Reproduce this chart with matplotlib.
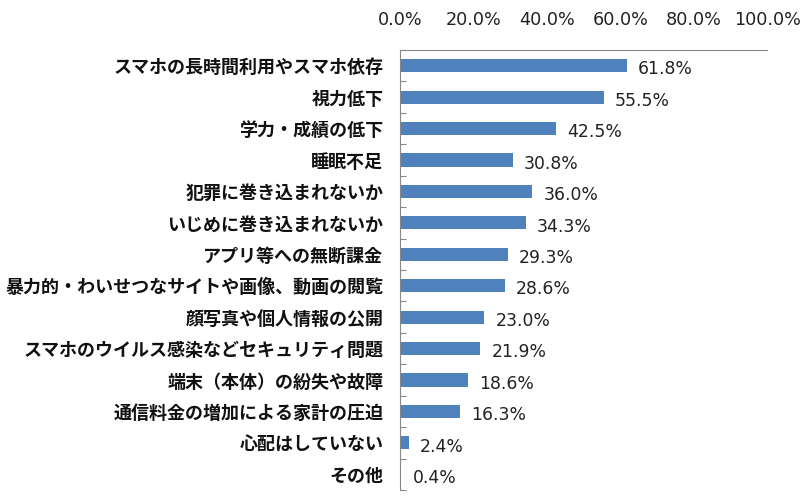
import matplotlib.pyplot as plt
from matplotlib.ticker import FuncFormatter

plt.rcParams['font.family'] = ['Noto Sans CJK JP', 'DejaVu Sans']

# categories and values (%)
labels = [
    'スマホの長時間利用やスマホ依存',
    '視力低下',
    '学力・成績の低下',
    '睡眠不足',
    '犯罪に巻き込まれないか',
    'いじめに巻き込まれないか',
    'アプリ等への無断課金',
    '暴力的・わいせつなサイトや画像、動画の閲覧',
    '顔写真や個人情報の公開',
    'スマホのウイルス感染などセキュリティ問題',
    '端末（本体）の紛失や故障',
    '通信料金の増加による家計の圧迫',
    '心配はしていない',
    'その他',
]
values = [61.8, 55.5, 42.5, 30.8, 36.0, 34.3, 29.3, 28.6, 23.0, 21.9, 18.6, 16.3, 2.4, 0.4]
xticks = [0, 20, 40, 60, 80, 100]

fig = plt.figure(figsize=(8, 5), dpi=100)
ax = fig.add_axes([0.5, 0.02, 0.459, 0.88])

pos = list(range(len(labels)))
ax.barh(pos, values, height=0.42, color='#4F81BD')
for p, v in zip(pos, values):
    ax.text(v + 3.0, p + 0.12, f'{v:.1f}%', va='center', ha='left', fontsize=12.4,
            color='#222222', family=['DejaVu Sans'])

ax.set_ylim(len(labels) - 0.5, -0.5)
ax.set_xlim(0, 100)
ax.set_yticks([p + 0.5 for p in pos[:-1]] + [-0.5, len(labels) - 0.5])
ax.set_yticklabels([])
ax.set_yticks(pos, minor=True)
ax.set_yticklabels(labels, minor=True, fontsize=13, fontweight='bold', color='#111111')
ax.tick_params(axis='y', which='minor', length=0, pad=12)
ax.tick_params(axis='y', which='major', direction='in', length=4, color='#888888')

ax.xaxis.tick_top()
ax.set_xticks(xticks)
ax.xaxis.set_major_formatter(FuncFormatter(lambda x, _: f'{x:.1f}%'))
ax.tick_params(axis='x', length=0, pad=15, labelsize=12.7, labelcolor='#222222')
for lbl in ax.get_xticklabels():
    lbl.set_family(['DejaVu Sans'])

ax.spines['right'].set_visible(False)
ax.spines['bottom'].set_visible(False)
ax.spines['left'].set_color('#888888')
ax.spines['top'].set_color('#888888')

fig.savefig('out.png', dpi=100)
